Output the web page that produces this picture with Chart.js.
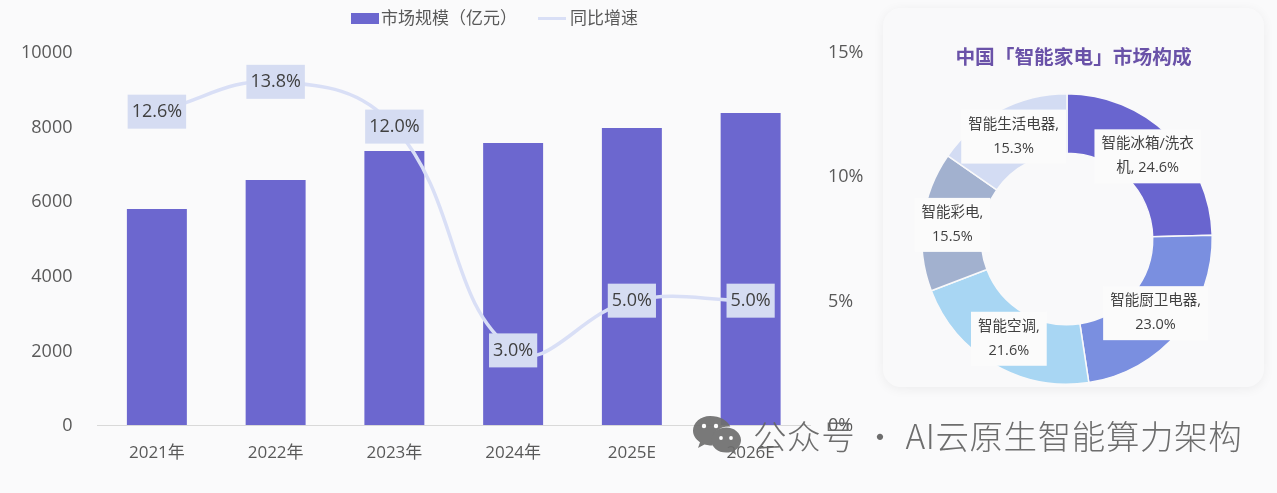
<!DOCTYPE html>
<html lang="zh-CN">
<head>
<meta charset="utf-8">
<title>智能家电市场</title>
<script src="https://cdn.jsdelivr.net/npm/chart.js@4"></script>
<style>
    html, body { margin: 0; padding: 0; background: #fafafb; }
    body { position: relative; width: 1277px; height: 493px; overflow: hidden;
           font-family: "Open Sans", "Noto Sans CJK SC", sans-serif; color: #595959; }
    #mainChart { position: absolute; left: 0; top: 0; }
    .legend { position: absolute; top: 6px; font-size: 17px; line-height: 24px; white-space: nowrap; }
    .legend i { position: absolute; left: -30px; width: 28px; }
    .card { position: absolute; left: 883px; top: 8px; width: 381px; height: 379px;
            background: #f9f9fa; border-radius: 18px; box-shadow: 0 2px 12px rgba(0, 0, 0, .06); }
    .card h3 { margin: 0; position: absolute; left: 0; right: 0; top: 33px; text-align: center;
               font-family: "Noto Sans CJK SC", sans-serif;
               font-size: 19.7px; line-height: 30px; font-weight: 700; color: #6a52a8; }
    #shareChart { position: absolute; left: 25.5px; top: 73px; }
    .mark { position: absolute; left: 693px; top: 414px; opacity: .92; }
    .mark-text { position: absolute; left: 753px; top: 410px; font-family: "Noto Sans CJK SC", sans-serif;
                 font-size: 33.5px; line-height: 50px; font-weight: 300; letter-spacing: .6px;
                 color: #666; white-space: nowrap; opacity: .95; }
</style>
</head>
<body>
<canvas id="mainChart" width="880" height="493"></canvas>
<div class="legend" style="left:381px"><i style="top:7px;height:11px;background:#6c67cf"></i><span id="barName"></span></div>
<div class="legend" style="left:570px"><i style="top:11px;height:3px;background:#d9dff6;left:-32px"></i><span id="lineName"></span></div>
<div class="card">
    <h3 id="shareTitle"></h3>
    <canvas id="shareChart" width="316" height="316"></canvas>
</div>
<svg class="mark" width="50" height="44" viewBox="0 0 50 44">
    <path fill="#6e6e6e" d="M17 2C7.6 2 0 8.6 0 16.6c0 4.8 2.6 8.8 7 11.6L5 34l6.4-3.4c1.9.5 3.8.8 5.6.8 1 0 2-.1 2.9-.2-.5-1.5-.7-3-.7-4.5 0-8 7.400-14.300 16.400-14.300.6 0 1.100 0 1.700.1C35.100 6.700 26.900 2 17 2z"/>
    <path fill="#6e6e6e" d="M48 26c0-7.100-6.900-12.600-14.800-12.600-8.400 0-14.900 5.500-14.900 12.600s6.500 12.600 14.900 12.600c1.700 0 3.500-.4 5.200-.9L43.200 41l-1.300-4.400C45.500 34 48 30.300 48 26z"/>
    <circle cx="11" cy="12" r="2.200" fill="#fff"/><circle cx="23" cy="12" r="2.200" fill="#fff"/>
    <circle cx="28" cy="24" r="1.900" fill="#fff"/><circle cx="38" cy="24" r="1.900" fill="#fff"/>
</svg>
<div class="mark-text">公众号 · AI云原生智能算力架构</div>

<script>
const years = ['2021年', '2022年', '2023年', '2024年', '2025E', '2026E'];
const marketSize = [5790, 6570, 7345, 7560, 7960, 8365];
const growthRate = [12.6, 13.8, 12.0, 3.0, 5.0, 5.0];
const barLabel = '市场规模（亿元）';
const lineLabel = '同比增速';

const shareTitle = '中国「智能家电」市场构成';
const shareValues = [24.6, 23.0, 21.6, 15.5, 15.3];
const shareLabels = [
    ['智能冰箱/洗衣', '机, 24.6%'],
    ['智能厨卫电器,', '23.0%'],
    ['智能空调,', '21.6%'],
    ['智能彩电,', '15.5%'],
    ['智能生活电器,', '15.3%']
];
const shareColors = ['#6965cf', '#7a8fe0', '#a8d6f3', '#a2b1cf', '#d3dcf3'];

const fontFamily = '"Open Sans", "Noto Sans CJK SC", sans-serif';

document.getElementById('barName').textContent = barLabel;
document.getElementById('lineName').textContent = lineLabel;
document.getElementById('shareTitle').textContent = shareTitle;

// 折线上的百分比标签，带浅色底块
const rateLabels = {
    id: 'rateLabels',
    afterDatasetsDraw(chart) {
        const { ctx } = chart;
        const points = chart.getDatasetMeta(1).data;
        ctx.save();
        ctx.font = '18px ' + fontFamily;
        ctx.textAlign = 'center';
        ctx.textBaseline = 'middle';
        points.forEach((pt, i) => {
            const text = growthRate[i].toFixed(1) + '%';
            const w = ctx.measureText(text).width + 8;
            ctx.fillStyle = '#d5dcf2';
            ctx.fillRect(pt.x - w / 2, pt.y - 17, w, 34);
            ctx.fillStyle = '#404040';
            ctx.fillText(text, pt.x, pt.y);
        });
        ctx.restore();
    }
};

new Chart(document.getElementById('mainChart'), {
    type: 'bar',
    data: {
        labels: years,
        datasets: [
            {
                type: 'bar',
                label: barLabel,
                data: marketSize,
                yAxisID: 'y',
                backgroundColor: '#6c67cf',
                barPercentage: 0.505,
                categoryPercentage: 1,
                order: 2
            },
            {
                type: 'line',
                label: lineLabel,
                data: growthRate,
                yAxisID: 'y1',
                borderColor: '#d9dff6',
                borderWidth: 3.5,
                pointRadius: 0,
                tension: 0.42,
                order: 1
            }
        ]
    },
    options: {
        responsive: false,
        animation: false,
        layout: { padding: { top: 52 } },
        plugins: { legend: { display: false }, tooltip: { enabled: false } },
        scales: {
            x: {
                grid: { display: false },
                border: { color: '#d9d9d9' },
                ticks: { color: '#595959', font: { size: 17, family: fontFamily }, padding: 10 },
                afterFit: (scale) => { scale.height = 68; }
            },
            y: {
                min: 0,
                max: 10000,
                grid: { display: false },
                border: { display: false },
                ticks: {
                    stepSize: 2000,
                    color: '#595959',
                    font: { size: 18, family: fontFamily },
                    padding: 17,
                    labelOffset: 1,
                    callback: (v) => String(v)
                },
                afterFit: (scale) => { scale.width = 97.5; }
            },
            y1: {
                position: 'right',
                min: 0,
                max: 15,
                grid: { display: false },
                border: { display: false },
                ticks: {
                    stepSize: 5,
                    color: '#595959',
                    font: { size: 18, family: fontFamily },
                    padding: 10,
                    labelOffset: 1,
                    callback: (v) => v + '%'
                },
                afterFit: (scale) => { scale.width = 70; }
            }
        }
    },
    plugins: [rateLabels]
});

// 环形图标签放在每个扇区的中心
const shareLabelPlugin = {
    id: 'shareLabelPlugin',
    afterDatasetsDraw(chart) {
        const { ctx } = chart;
        const lineHeight = 24;
        ctx.save();
        ctx.font = '14.5px ' + fontFamily;
        ctx.textAlign = 'center';
        ctx.textBaseline = 'middle';
        chart.getDatasetMeta(0).data.forEach((arc, i) => {
            const { x, y } = arc.getCenterPoint();
            const lines = shareLabels[i];
            const w = Math.max(...lines.map((t) => ctx.measureText(t).width)) + 14;
            const h = lines.length * lineHeight + 6;
            ctx.fillStyle = '#fbfbfb';
            ctx.fillRect(x - w / 2, y - h / 2, w, h);
            ctx.fillStyle = '#404040';
            lines.forEach((t, n) => {
                ctx.fillText(t, x, y + (n - (lines.length - 1) / 2) * lineHeight);
            });
        });
        ctx.restore();
    }
};

new Chart(document.getElementById('shareChart'), {
    type: 'doughnut',
    data: {
        labels: shareLabels.map((l) => l.join('')),
        datasets: [{
            data: shareValues,
            backgroundColor: shareColors,
            borderColor: '#f9f9fa',
            borderWidth: 1.5
        }]
    },
    options: {
        responsive: false,
        animation: false,
        cutout: '59%',
        layout: { padding: 12 },
        plugins: { legend: { display: false }, tooltip: { enabled: false } }
    },
    plugins: [shareLabelPlugin]
});
</script>
</body>
</html>
